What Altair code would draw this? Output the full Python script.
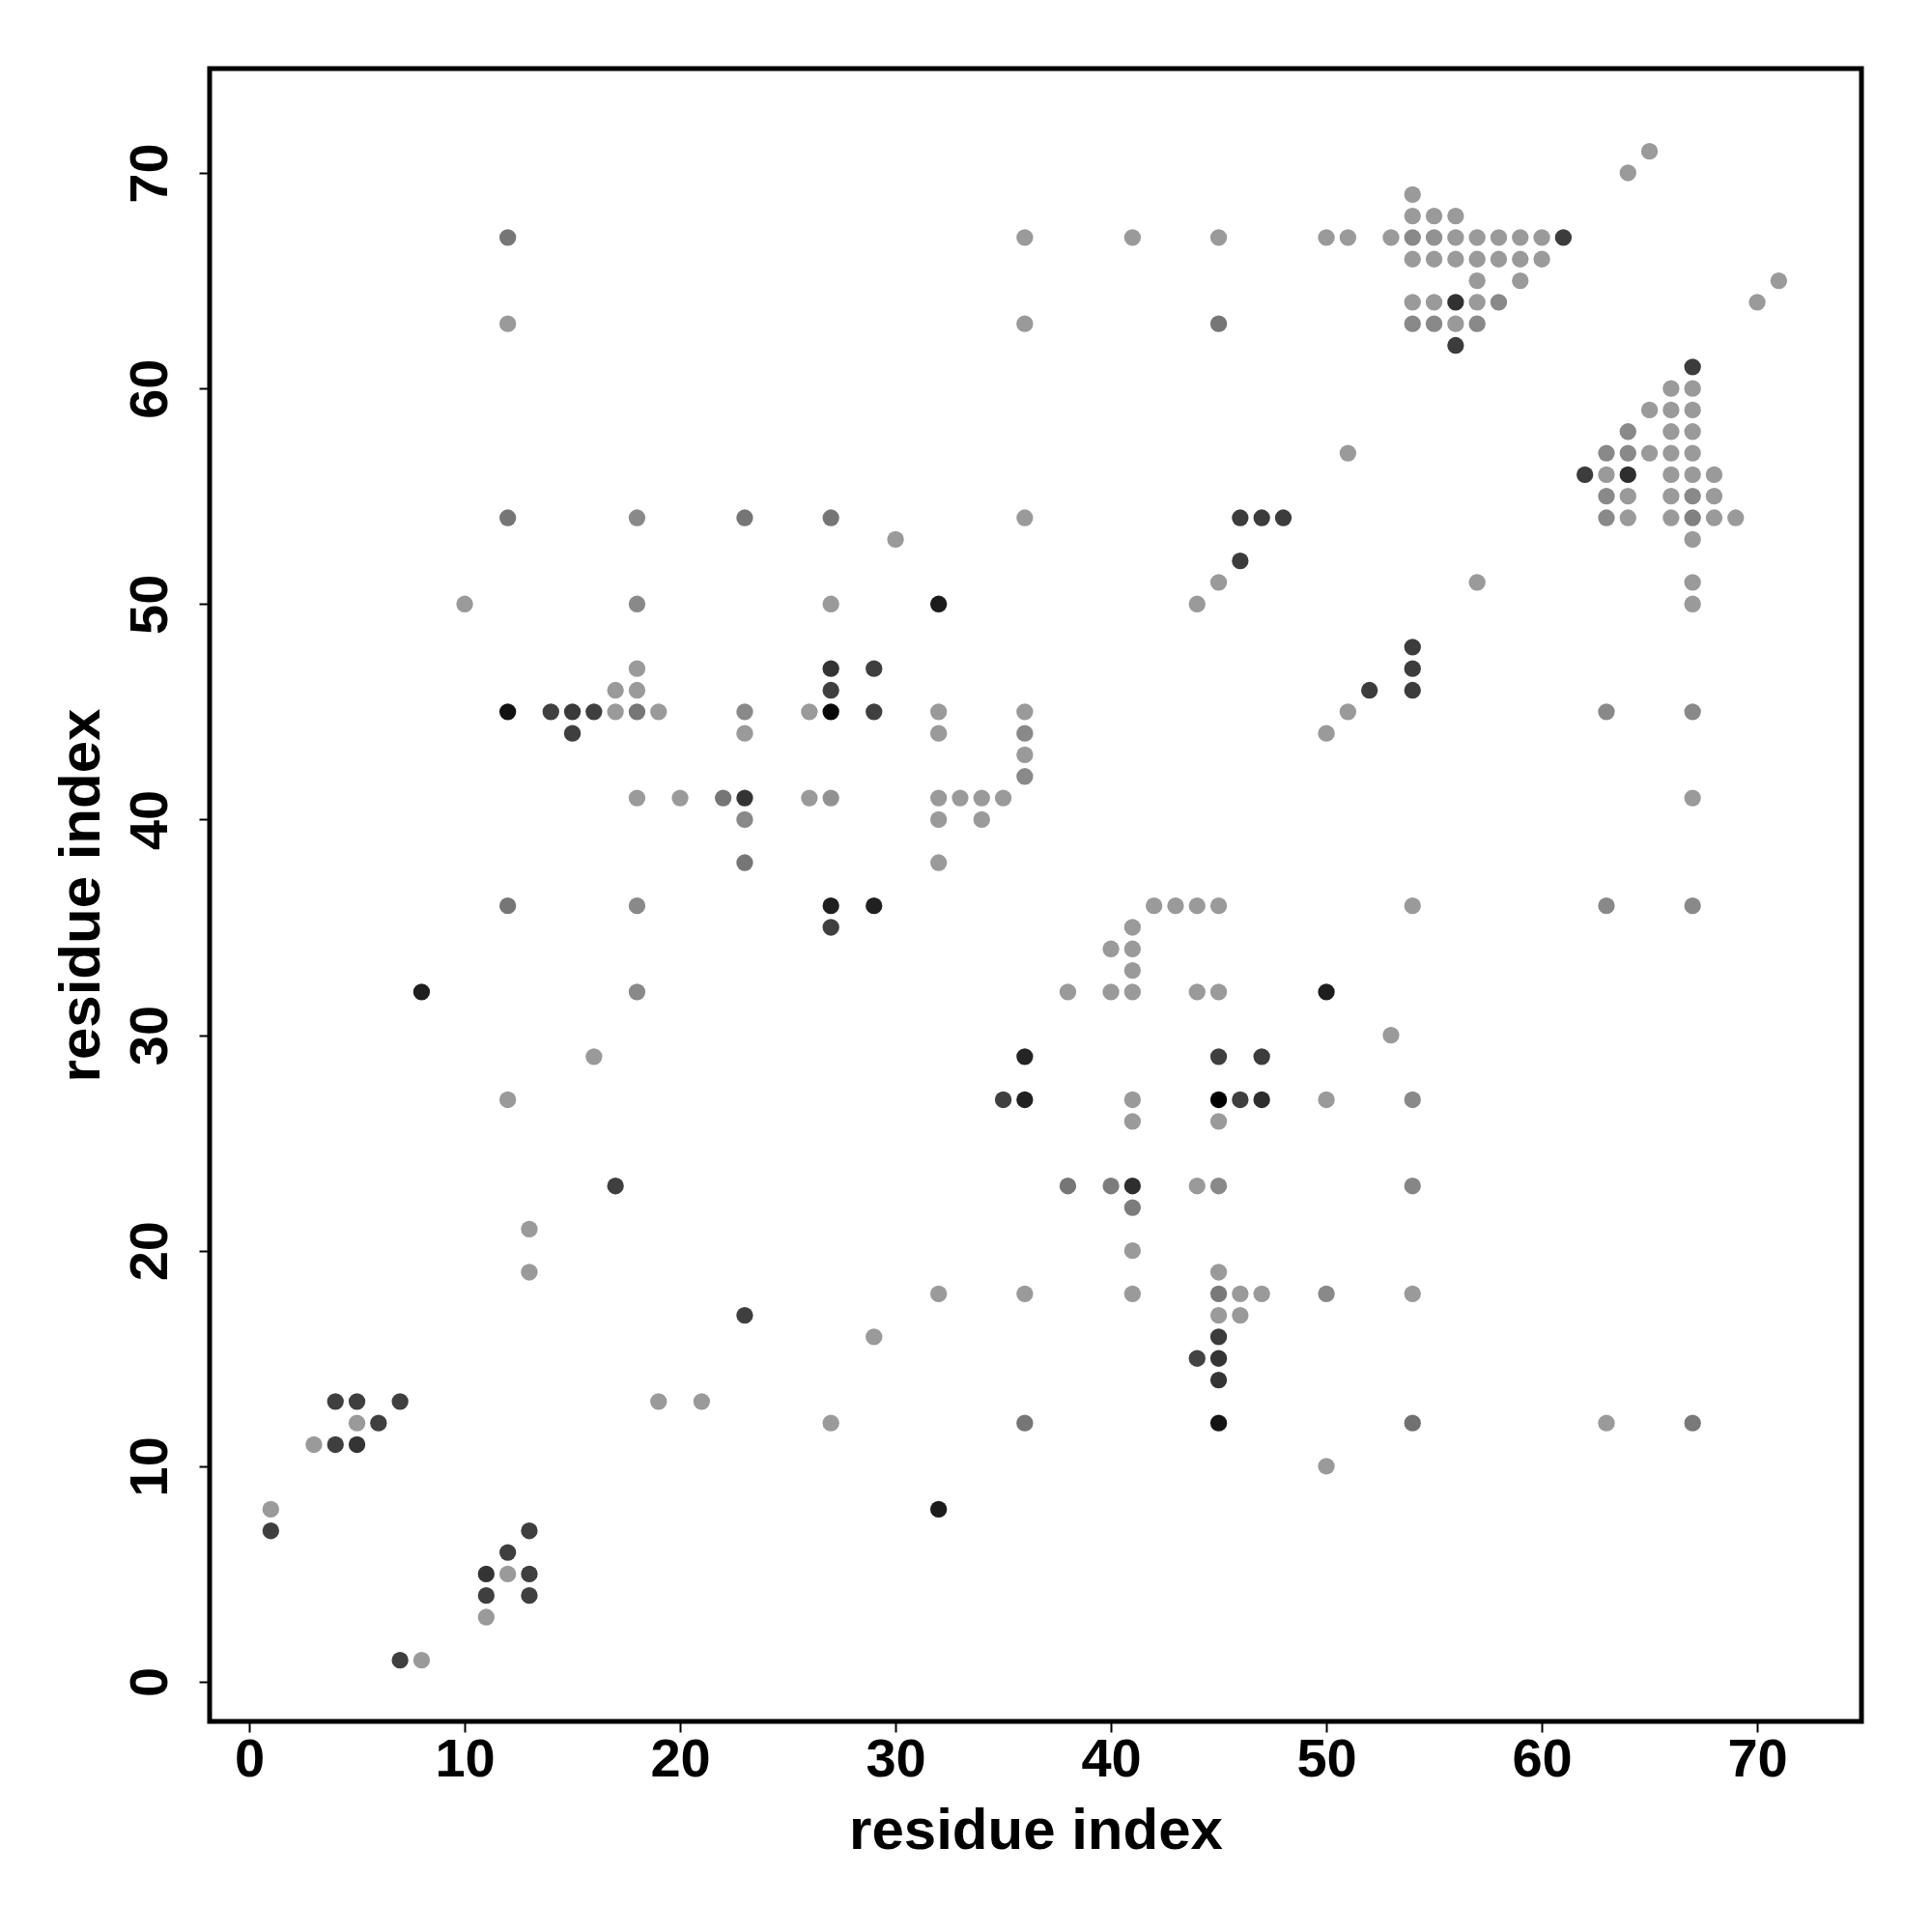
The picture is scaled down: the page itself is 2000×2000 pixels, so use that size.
import altair as alt
import pandas as pd

# residue index pairs (x = res_i, y = res_j) and contact weight (0 = light grey, 1 = black)
res_i = [
    1, 1, 7, 8,
    3, 4, 5, 5, 6, 4, 5, 7,
    11, 11, 13, 11, 12, 13, 12, 13,
    13, 13, 12, 16, 17, 8, 12, 12,
    14, 15, 16, 15, 17, 17, 18, 18, 18, 19,
    12, 12, 12, 10, 18, 18, 18, 18, 18,
    19, 21, 20, 22, 23, 23, 23, 23, 23, 23, 23,
    26, 26, 27, 27, 27, 27, 27, 27, 27, 27, 27,
    29, 29, 29, 29, 30,
    32, 32, 32, 32, 32, 32, 32, 32,
    33, 34, 34, 35, 35,
    36, 36, 36, 36, 36, 36, 36, 36, 36, 36, 36,
    38, 38, 40, 40, 40,
    41, 41, 41, 41, 41, 41, 41, 41, 41, 41, 41,
    42, 43, 44, 45, 44, 45, 44, 45,
    44, 45, 46, 46, 47, 48, 45, 45,
    45, 45, 45, 46, 47, 47,
    45, 45, 45, 45, 45, 44, 45, 45, 46, 46, 47,
    50, 50, 50, 50, 50, 51, 52, 54, 54, 54,
    51, 53, 54, 54, 54, 54, 54,
    50, 51, 53, 54, 54, 55, 56,
    54, 55, 56, 57, 58, 59, 60, 61,
    54, 55, 56, 57, 58, 59, 60,
    57, 59, 54, 55, 56, 57, 58,
    54, 55, 56, 57, 56, 57,
    62, 63, 64, 63, 64, 64, 63, 64, 63, 64,
    65, 65, 66, 66, 66, 66, 66, 66, 66,
    67, 67, 67, 67, 67, 67, 67, 67, 67, 67, 67,
    68, 68, 68, 69, 64, 65, 70, 71,
    63, 63, 63, 67, 67, 67, 67,
]

res_j = [
    8, 7, 1, 1,
    11, 11, 11, 12, 12, 13, 13, 13,
    3, 4, 4, 5, 5, 5, 6, 7,
    19, 21, 27, 29, 23, 32, 36, 45,
    45, 45, 45, 44, 45, 46, 45, 46, 47, 45,
    54, 63, 67, 50, 54, 50, 41, 36, 32,
    13, 13, 41, 41, 41, 40, 38, 44, 45, 54, 17,
    45, 41, 41, 45, 46, 47, 50, 54, 36, 35, 12,
    47, 45, 36, 16, 53,
    50, 45, 44, 41, 40, 38, 18, 8,
    41, 41, 40, 41, 27,
    45, 44, 43, 42, 54, 63, 67, 18, 12, 29, 27,
    32, 23, 34, 32, 23,
    23, 22, 20, 18, 27, 26, 32, 33, 34, 35, 67,
    36, 36, 36, 36, 32, 32, 23, 23,
    50, 51, 52, 54, 54, 54, 67, 63,
    29, 27, 26, 27, 27, 29,
    19, 18, 17, 16, 15, 15, 14, 12, 18, 17, 18,
    32, 27, 18, 10, 44, 45, 46, 46, 47, 48,
    57, 30, 36, 27, 23, 18, 12,
    67, 67, 67, 69, 68, 68, 68,
    67, 67, 67, 67, 67, 67, 67, 67,
    66, 66, 66, 66, 66, 66, 66,
    65, 65, 64, 64, 64, 64, 64,
    63, 63, 63, 63, 62, 51,
    56, 56, 56, 57, 57, 58, 55, 55, 54, 54,
    59, 57, 60, 59, 58, 57, 56, 55, 54,
    61, 60, 59, 58, 57, 56, 55, 54, 53, 51, 50,
    56, 55, 54, 54, 70, 71, 64, 65,
    45, 36, 12, 45, 41, 36, 12,
]

weight = [
    0, .58, .58, 0,
    0, .58, .66, 0, .58, .58, .58, .58,
    0, .58, .58, .66, 0, .58, .58, .58,
    0, 0, 0, 0, .58, .82, .22, .92,
    .58, .62, .58, .58, 0, 0, .22, 0, 0, 0,
    .22, 0, .22, 0, .1, .1, 0, .1, .1,
    0, 0, 0, .22, .66, .1, .22, 0, .1, .22, .58,
    0, 0, .05, .97, .58, .66, 0, .22, .82, .58, 0,
    .58, .58, .8, 0, 0,
    .85, 0, 0, 0, 0, 0, 0, .85,
    0, 0, 0, 0, .58,
    0, .1, 0, .1, 0, 0, 0, 0, .22, .78, .8,
    0, .22, 0, 0, .18,
    .7, .18, 0, 0, 0, 0, 0, 0, 0, 0, 0,
    0, 0, 0, 0, 0, 0, 0, .1,
    0, 0, .6, .6, .6, .6, 0, .22,
    .58, 1.0, 0, .58, .7, .6,
    0, .2, 0, .6, .66, .55, .66, .9, 0, 0, 0,
    .82, 0, .1, 0, 0, 0, .6, .6, .6, .6,
    0, 0, 0, .1, .12, 0, .25,
    0, 0, 0, 0, 0, 0, 0,
    .1, .05, 0, 0, 0, 0, 0, .6,
    0, 0, 0, 0, 0, 0, 0,
    0, 0, 0, 0, .68, 0, .1,
    .1, .1, 0, .1, .6, 0,
    .6, 0, .7, .1, .1, .1, .1, 0, .1, 0,
    0, 0, 0, 0, 0, 0, 0, 0, 0,
    .6, 0, 0, 0, 0, 0, .1, .15, 0, 0, 0,
    0, 0, 0, 0, 0, 0, 0, 0,
    .1, .1, 0, .1, 0, .1, .2,
]

tick_values = [0, 10, 20, 30, 40, 50, 60, 70]
axis_domain = [-1.84, 74.84]

assert len(res_i) == len(res_j) == len(weight)

df = pd.DataFrame({"i": res_i, "j": res_j, "w": weight})

W, H = 1710, 1711
FONT = "Liberation Sans"

chart = (
    alt.Chart(df)
    .mark_circle(size=300, opacity=1)
    .encode(
        x=alt.X(
            "i:Q",
            scale=alt.Scale(domain=axis_domain, nice=False, zero=False),
            axis=alt.Axis(
                values=tick_values,
                title="residue index",
                grid=False,
                domain=False,
                tickSize=11,
                tickWidth=2,
                tickColor="black",
                labelFont=FONT,
                labelFontWeight="bold",
                labelFontSize=56,
                labelColor="black",
                labelPadding=1,
                labelBaseline="top",
                labelFlush=False,
                labelOverlap=False,
                titleFont=FONT,
                titleFontWeight="bold",
                titleFontSize=60,
                titleColor="black",
                titleX=W / 2,
                titleY=131,
                titleAlign="center",
                titleBaseline="alphabetic",
                titleAngle=0,
            ),
        ),
        y=alt.Y(
            "j:Q",
            scale=alt.Scale(domain=axis_domain, nice=False, zero=False),
            axis=alt.Axis(
                values=tick_values,
                title="residue index",
                grid=False,
                domain=False,
                tickSize=11,
                tickWidth=2,
                tickColor="black",
                labelFont=FONT,
                labelFontWeight="bold",
                labelFontSize=56,
                labelColor="black",
                labelAngle=270,
                labelAlign="center",
                labelBaseline="alphabetic",
                labelPadding=34,
                labelFlush=False,
                labelOverlap=False,
                titleFont=FONT,
                titleFontWeight="bold",
                titleFontSize=60,
                titleColor="black",
                titleX=-115,
                titleY=H / 2,
                titleAlign="center",
                titleBaseline="alphabetic",
                titleAngle=270,
            ),
        ),
        color=alt.Color(
            "w:Q",
            scale=alt.Scale(domain=[0, 1], range=["#9a9a9a", "#000000"]),
            legend=None,
        ),
    )
    .properties(
        width=W,
        height=H,
        autosize=alt.AutoSizeParams(type="none"),
        padding={"left": 209, "top": 63, "right": 60, "bottom": 200},
    )
    .configure_view(stroke="black", strokeWidth=5)
)

chart.save("out.html", embed_options={"renderer": "svg", "actions": False})
